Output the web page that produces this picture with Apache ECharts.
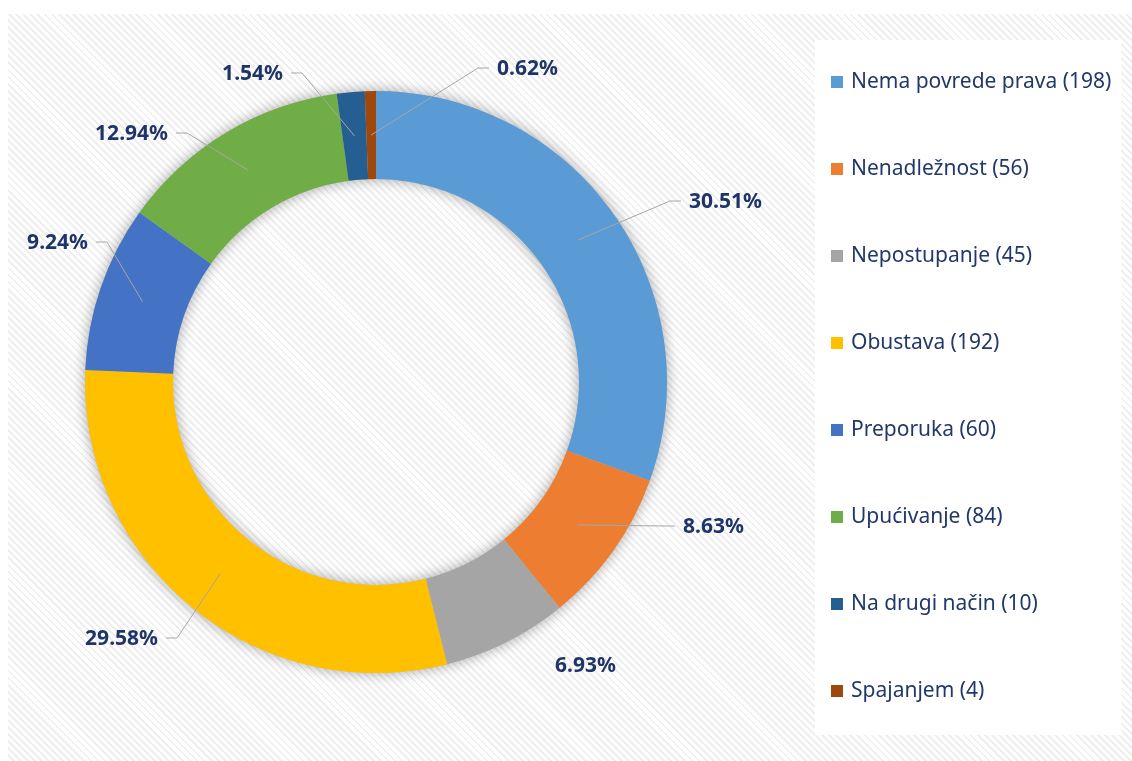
<!DOCTYPE html>
<html>
<head>
<meta charset="utf-8">
<title>Donut</title>
<script src="https://cdn.jsdelivr.net/npm/echarts@6/dist/echarts.min.js"></script>
<style>
	html, body { margin: 0; padding: 0; background: #fff; }
	#bg {
		position: absolute; left: 8px; top: 14px; width: 1124px; height: 747px;
		background: repeating-linear-gradient(45deg, #ffffff 0px, #ffffff 3px, #efefef 3px, #efefef 5px);
	}
	#chart { position: absolute; left: 0; top: 0; width: 1132px; height: 761px; }
</style>
</head>
<body>
<div id="bg"></div>
<div id="chart"></div>
<script>
	// podaci
	const categories = ["Nema povrede prava", "Nenadležnost", "Nepostupanje", "Obustava", "Preporuka", "Upućivanje", "Na drugi način", "Spajanjem"];
	const counts = [198, 56, 45, 192, 60, 84, 10, 4];
	const colors = ["#5b9bd5", "#ed7d31", "#a5a5a5", "#ffc000", "#4472c4", "#70ad47", "#255e91", "#9e480e"];

	// mjesta natpisa (x, y, poravnanje, linija)
	const labelSpots = [
		[689, 202, "left", true],
		[683, 527, "left", true],
		[555, 666, "left", false],
		[158, 639, "right", true],
		[88, 243, "right", true],
		[168, 134, "right", true],
		[283, 74, "right", true],
		[497, 69, "left", true]
	];

	const center = [376, 382];
	const innerR = 203;
	const outerR = 291;
	const midR = (innerR + outerR) / 2;

	const total = counts.reduce((a, b) => a + b, 0);
	const legendNames = categories.map((c, i) => `${c} (${counts[i]})`);
	const pct = counts.map(v => (v / total * 100).toFixed(2) + "%");

	// srednji kut svakog isječka (od vrha, u smjeru kazaljke)
	const midAngles = [];
	let acc = 0;
	counts.forEach(v => {
		midAngles.push((acc + v / 2) / total * Math.PI * 2);
		acc += v;
	});

	const chart = echarts.init(document.getElementById("chart"));

	const option = {
		backgroundColor: "transparent",
		legend: {
			orient: "vertical",
			left: 815,
			top: 40,
			padding: [30, 10, 32, 16],
			backgroundColor: "#ffffff",
			itemWidth: 12,
			itemHeight: 12,
			itemGap: 63,
			icon: "rect",
			textStyle: {
				fontFamily: "Noto Sans",
				fontSize: 21,
				lineHeight: 24,
				color: "#22386a",
				padding: [0, 0, 0, 3]
			},
			data: legendNames
		},
		series: [
			{
				// sjena prstena
				type: "pie",
				silent: true,
				center,
				radius: [innerR, outerR],
				label: { show: false },
				labelLine: { show: false },
				itemStyle: {
					color: "#bbbbbb",
					shadowBlur: 14,
					shadowColor: "rgba(0,0,0,0.35)"
				},
				data: [{ value: 1, name: "" }]
			},
			{
				type: "pie",
				center,
				radius: [innerR, outerR],
				startAngle: 90,
				clockwise: true,
				emphasis: { disabled: true },
				label: { show: false },
				labelLine: { show: false },
				data: counts.map((v, i) => ({
					value: v,
					name: legendNames[i],
					itemStyle: { color: colors[i] }
				}))
			},
			{
				// natpisi i linije iznad prstena
				type: "pie",
				z: 3,
				silent: true,
				center,
				radius: [innerR, outerR],
				startAngle: 90,
				clockwise: true,
				avoidLabelOverlap: false,
				emphasis: { disabled: true },
				itemStyle: { color: "rgba(0,0,0,0)" },
				label: {
					show: true,
					position: "outside",
					fontFamily: "Noto Sans",
					fontWeight: "bold",
					fontSize: 21,
					color: "#1f3468",
					formatter: p => pct[p.dataIndex]
				},
				labelLine: {
					show: true,
					lineStyle: { color: "#a6a6a6", width: 1 }
				},
				labelLayout: params => {
					const i = params.dataIndex;
					const [x, y, side, line] = labelSpots[i];
					const res = { x, y, align: side, verticalAlign: "middle" };
					if (line) {
						const a = midAngles[i];
						const start = [center[0] + Math.sin(a) * midR, center[1] - Math.cos(a) * midR];
						const s = side === "left" ? -1 : 1;
						res.labelLinePoints = [start, [x + s * 19, y - 1], [x + s * 8, y - 1]];
					}
					return res;
				},
				data: counts.map((v, i) => ({
					value: v,
					name: "_" + i,
					labelLine: { show: labelSpots[i][3] }
				}))
			}
		]
	};

	chart.setOption(option);
</script>
</body>
</html>
